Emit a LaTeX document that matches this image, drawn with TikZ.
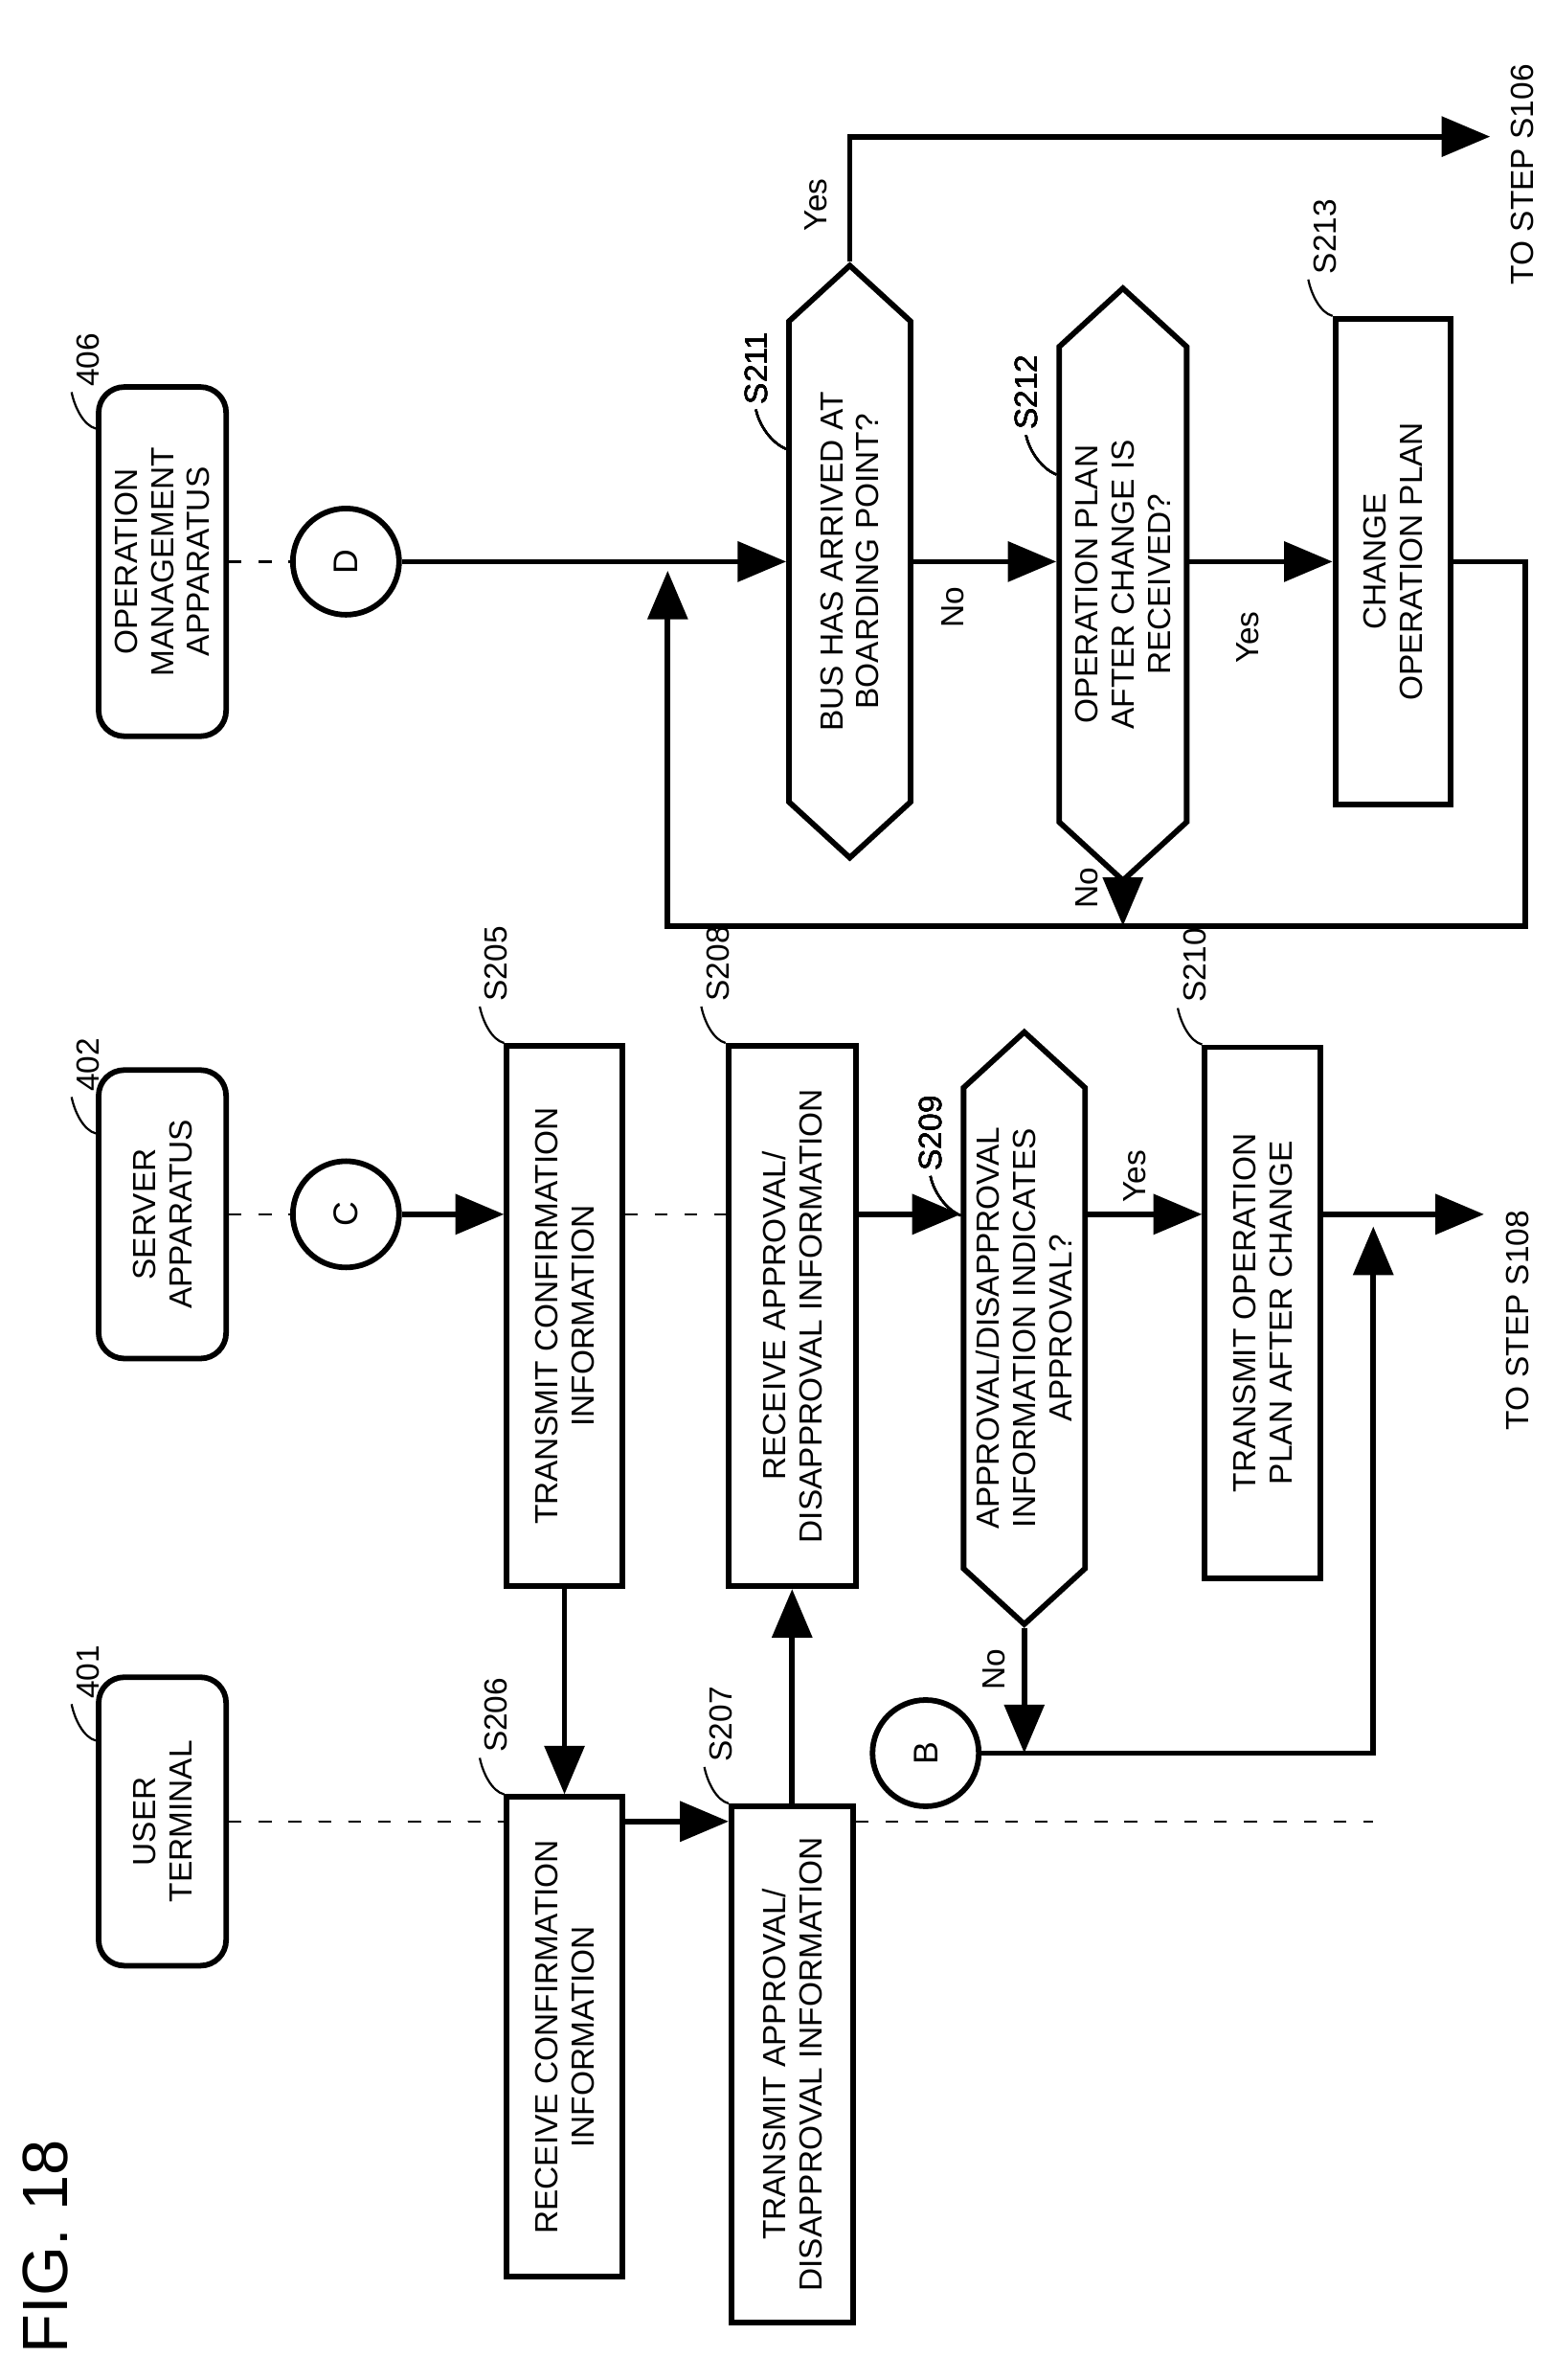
\documentclass[tikz,border=0pt]{standalone}
\usepackage{fontspec}
\setmainfont{Liberation Sans}
\usetikzlibrary{arrows.meta,shapes.symbols,calc}

\tikzset{
	proc/.style={draw,line width=2.6pt,rotate=90,minimum width=#1,minimum height=1.9cm,align=center,font=\fontsize{15}{17}\selectfont},
	dec/.style={draw,line width=2.6pt,rotate=90,signal,signal to=west and east,signal pointer angle=95,minimum width=#1,minimum height=2cm,inner sep=1pt,align=center,font=\fontsize{15}{17}\selectfont},
	lane/.style={draw,line width=2.6pt,rounded corners=12pt,rotate=90,minimum width=#1,minimum height=2.1cm,align=center,font=\fontsize{15}{17}\selectfont},
	conn/.style={draw,line width=2.6pt,circle,minimum size=1.75cm,font=\fontsize{16}{18}\selectfont,rotate=90},
	flow/.style={line width=2.6pt,-{Triangle[length=8mm,width=6.5mm]}},
	life/.style={line width=1pt,dash pattern=on 6pt off 8pt},
	lbl/.style={rotate=90,font=\fontsize{15}{17}\selectfont}
}
\newcommand{\stepref}[2]{%
	\draw[line width=1pt] (#1) .. controls +(-8,-2) and +(2,10) .. ++(-16,-24)
		node[rotate=90,anchor=north west,inner sep=2pt,font=\fontsize{15}{17}\selectfont]{#2};}
\newcommand{\decref}[2]{%
	\draw[line width=1pt] (#1) .. controls +(-10,-4) and +(2,10) .. ++(-20,-26)
		node[rotate=90,anchor=west,inner sep=2pt,font=\fontsize{15}{17}\selectfont]{#2};}

\begin{document}
\begin{tikzpicture}[x=0.025cm,y=-0.025cm]
	\useasboundingbox (0,0) rectangle (1024,1568);
	% lanes
	\node[lane=4.75cm](UT) at (107,1200) {USER\\TERMINAL};
	\node[lane=4.75cm](SA) at (107,800) {SERVER\\APPARATUS};
	\node[lane=5.75cm](OM) at (107,370) {OPERATION\\MANAGEMENT\\APPARATUS};
	\node[conn](C) at (228,800) {C};
	\node[conn](D) at (228,370) {D};
	\node[conn](B) at (610,1155) {B};
	% steps
	\node[proc=8.9cm](S205) at (372,867) {TRANSMIT CONFIRMATION\\INFORMATION};
	\node[proc=7.9cm](S206) at (372,1342) {RECEIVE CONFIRMATION\\INFORMATION};
	\node[proc=8.5cm,minimum height=2cm](S207) at (522,1360) {TRANSMIT APPROVAL/\\DISAPPROVAL INFORMATION};
	\node[proc=8.9cm,minimum height=2.1cm](S208) at (522,867) {RECEIVE APPROVAL/\\DISAPPROVAL INFORMATION};
	\node[dec=9.75cm](S209) at (675,875) {APPROVAL/DISAPPROVAL\\INFORMATION INDICATES\\APPROVAL?};
	\node[proc=8.75cm](S210) at (832,865) {TRANSMIT OPERATION\\PLAN AFTER CHANGE};
	\node[dec=9.75cm](S211) at (560,370) {BUS HAS ARRIVED AT\\BOARDING POINT?};
	\node[dec=9.75cm,minimum height=2.1cm](S212) at (740,385) {OPERATION PLAN\\AFTER CHANGE IS\\RECEIVED?};
	\node[proc=8cm](S213) at (918,370) {CHANGE\\OPERATION PLAN};
	\node[lbl,font=\fontsize{30}{32}\selectfont](fig) at (30,1480) {FIG. 18};
	\node[lbl](toA) at (1003,115) {TO STEP S106};
	\node[lbl](toB) at (1000,870) {TO STEP S108};
	\coordinate (s106) at (982,90);
	\coordinate (s108) at (978,800);
	\coordinate (endU) at (905,1200);
	\coordinate (j) at (440,370);
	% references
	\stepref{$(UT.north)!0.55!(UT.north east)$}{401}
	\stepref{$(SA.north)!0.55!(SA.north east)$}{402}
	\stepref{$(OM.north)!0.75!(OM.north east)$}{406}
	\foreach \s in {S205,S206,S207,S208,S210,S213}
		\stepref{\s.north east}{\s}
	\foreach \s in {S209,S211,S212}
		\decref{$(\s.north east)+(0,85)$}{\s}
	% lifelines
	\draw[life] (UT.south) -- (UT.south -| S206.north);
	\draw[life] (S207.south |- UT) -- (endU);
	\draw[life] (SA.south) -- (C);
	\draw[life] (S205.south |- C) -- (S208.north |- C);
	\draw[life] (OM.south) -- (D);
	% flow
	\draw[flow] (C) -- (C -| S205.north);
	\draw[flow] (S205.west) -- (S205.west |- S206.east);
	\draw[flow] (S206.south |- UT) -- (S207.north |- UT);
	\draw[flow] (S207.east) -- (S207.east |- S208.west);
	\draw[flow] (S208.south |- C) -- (S209.north |- C);
	\draw[flow] (S209.south |- C) -- (S210.north |- C);
	\draw[flow] (S210.south |- C) -- (s108);
	\draw[flow] (S209.west) -- (S209.west |- B);
	\draw[flow] (B) -- (905,1155) -- (905,808);
	\draw[flow] (D) -- (S211.north |- D);
	\draw[flow] (S211.east) -- (S211.east |- s106) -- (s106);
	\draw[flow] (S211.south |- D) -- (S212.north |- D);
	\draw[flow] (S212.south |- D) -- (S213.north |- D);
	\draw[flow] (S212.west) -- (S212.west |- 0,610);
	\draw[flow] (S213.south |- D) -- (1005,370) -- (1005,610) -- (440,610) -- ($(j)+(0,6)$);
	% branch labels
	\node[lbl] at (748,775) {Yes};
	\node[lbl] at (655,1100) {No};
	\node[lbl] at (538,135) {Yes};
	\node[lbl] at (628,400) {No};
	\node[lbl] at (822,420) {Yes};
	\node[lbl] at (716,585) {No};
\end{tikzpicture}
\end{document}
